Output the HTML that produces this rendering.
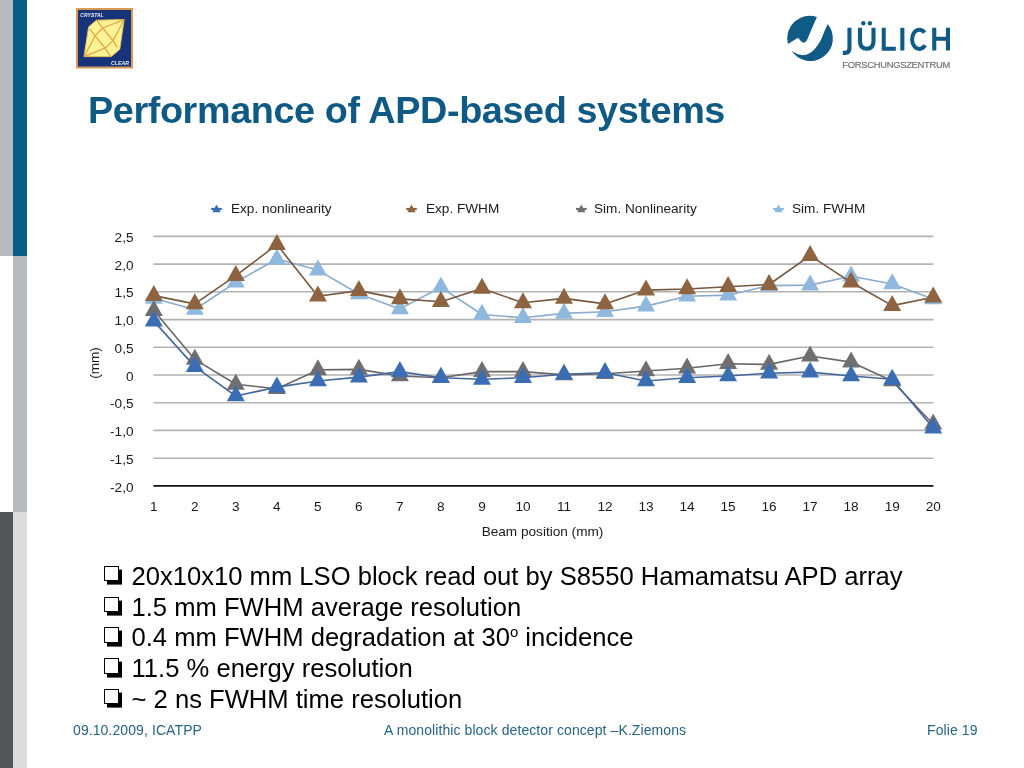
<!DOCTYPE html>
<html><head><meta charset="utf-8"><style>
html,body{margin:0;padding:0;background:#fff;}
body{width:1024px;height:768px;position:relative;overflow:hidden;font-family:"Liberation Sans",sans-serif;-webkit-font-smoothing:antialiased;}
.bar{position:absolute;}
.title,.bul,.foot,.chart,.jl,.cc{will-change:transform;}
.chart{position:absolute;left:0;top:0;}
.cc{position:absolute;left:76px;top:8px;}
.jl{position:absolute;left:780px;top:5px;}
.title{position:absolute;left:88px;top:87.5px;font-size:37.8px;letter-spacing:-0.4px;font-weight:bold;color:#0e5a84;white-space:nowrap;line-height:44px;}
.bul{position:absolute;left:103px;top:561px;font-size:25.6px;line-height:30.7px;color:#000;white-space:nowrap;}
.bul div{position:relative;padding-left:28.5px;}
.bx{position:absolute;left:1px;top:4.9px;width:13.3px;height:13.5px;border:1.1px solid #000;box-shadow:3px 3.6px 0 #000;background:#fff;}
.bul sup{font-size:15px;vertical-align:0;position:relative;top:-9px;line-height:0;}
.foot{position:absolute;top:721.5px;font-size:14px;color:#276585;white-space:nowrap;letter-spacing:0.09px;}
</style></head><body>
<div class="bar" style="left:0;top:0;width:13px;height:256px;background:#b9bbc0"></div>
<div class="bar" style="left:13px;top:0;width:14px;height:256px;background:#075d86"></div>
<div class="bar" style="left:13px;top:256px;width:14px;height:256px;background:#b9babe"></div>
<div class="bar" style="left:0;top:512px;width:13px;height:256px;background:#545557"></div>
<div class="bar" style="left:13px;top:512px;width:14px;height:256px;background:#dcdcdc"></div>
<svg class="cc" width="58" height="62" viewBox="0 0 58 62">
<rect x="1" y="1" width="55" height="58.5" fill="#173379" stroke="#d99a56" stroke-width="2"/>
<g transform="translate(-76 -8)">
<path d="M96.5 20.2L124.1 19.6L119.8 49.3L111.2 56.6L84 56.6L88.6 26.9Z" fill="#fcf397" stroke="#f3c457" stroke-width="0.9"/>
<g fill="none" stroke="#e5a13d" stroke-width="1.2">
<polyline points="84,56.6 95.2,35.8 102.6,27.9 124.1,19.8"/>
<polyline points="84,56.6 105.1,48.1 113,40.7 124.1,19.8"/>
<polyline points="96.5,20.2 102.6,27.9 113,40.7 117.3,47.4"/>
<polyline points="89.8,29.1 95.2,35.8 105.1,48.1 110.6,56.6"/>
</g>
<text x="80.3" y="16.6" font-family="Liberation Sans, sans-serif" font-weight="bold" font-style="italic" font-size="6" fill="#e8eef8" textLength="23.4" lengthAdjust="spacingAndGlyphs">CRYSTAL</text>
<text x="111" y="64.5" font-family="Liberation Sans, sans-serif" font-weight="bold" font-style="italic" font-size="6" fill="#e8eef8" textLength="18" lengthAdjust="spacingAndGlyphs">CLEAR</text>
</g></svg>
<svg class="jl" width="180" height="70" viewBox="780 5 180 70">
<path fill="#0f5b86" d="M816.90 16.93 A22.5 22.5 0 0 0 787.93 43.95 L798.02 37.76 C798.45 38.25 799.65 39.88 800.62 40.69 C801.60 41.51 802.85 42.70 803.88 42.65 C804.91 42.59 805.83 41.89 806.81 40.37 C807.79 38.85 808.60 36.19 809.74 33.53 C810.88 30.87 812.45 27.18 813.65 24.42 C814.84 21.65 816.36 18.18 816.90 16.93 Z"/>
<path fill="#0f5b86" d="M827.64 24.09 A22.5 22.5 0 1 1 791.51 50.78 C792.60 51.38 795.85 53.66 798.02 54.36 C800.19 55.07 802.47 55.29 804.53 55.02 C806.59 54.74 808.55 53.91 810.39 52.74 C812.24 51.57 813.97 49.88 815.60 47.98 C817.23 46.09 818.75 43.97 820.16 41.34 C821.57 38.72 822.81 35.10 824.06 32.23 C825.31 29.35 827.05 25.45 827.64 24.09 Z"/>
<g fill="none" stroke="#0f5b86" stroke-width="4.1">
<path d="M849.45 27.8 V48.6 C849.45 51.8 847.6 52.9 845.2 52.9 H842.8"/>
<path d="M860 27.8 V41 C860 46.5 863 48.7 866.75 48.7 C870.5 48.7 873.5 46.5 873.5 41 V27.8"/>
<path d="M883.75 27.8 V48.75 H895.8" stroke-width="4"/>
<path d="M902.35 27.8 V50.5"/>
<path d="M924.6 32.6 A7.3 9.65 0 1 0 925.1 45.3" stroke-width="4"/>
<path d="M934.25 27.8 V50.5 M947.95 27.8 V50.5 M934.25 38.75 H947.95"/>
</g>
<circle cx="863.3" cy="23.2" r="2.2" fill="#0f5b86"/><circle cx="869.9" cy="23.2" r="2.2" fill="#0f5b86"/>
<text x="842.3" y="67.8" font-family="Liberation Sans, sans-serif" font-size="9.4" fill="#6e6e6e" stroke="#6e6e6e" stroke-width="0.15" textLength="108" lengthAdjust="spacing">FORSCHUNGSZENTRUM</text>
</svg>
<div class="title">Performance of APD-based systems</div>
<svg class="chart" width="1024" height="768" viewBox="0 0 1024 768">
<g font-family="Liberation Sans, sans-serif" font-size="13.6" fill="#1a1a1a"><path d="M216.5 204.5L220.7 212.2L212.3 212.2Z" fill="#3b6db3"/><line x1="211.2" x2="221.8" y1="209.0" y2="209.0" stroke="#3b6db3" stroke-width="2.2"/><path d="M411.5 204.5L415.7 212.2L407.3 212.2Z" fill="#8e6440"/><line x1="406.2" x2="416.8" y1="209.0" y2="209.0" stroke="#8e6440" stroke-width="2.2"/><path d="M581.3 204.5L585.5 212.2L577.1 212.2Z" fill="#6f6f72"/><line x1="576.0" x2="586.6" y1="209.0" y2="209.0" stroke="#6f6f72" stroke-width="2.2"/><path d="M778.5 204.5L782.7 212.2L774.3 212.2Z" fill="#8fb8de"/><line x1="773.2" x2="783.8" y1="209.0" y2="209.0" stroke="#8fb8de" stroke-width="2.2"/><text x="231" y="213">Exp. nonlinearity</text><text x="426" y="213">Exp. FWHM</text><text x="594" y="213">Sim. Nonlinearity</text><text x="792" y="213">Sim. FWHM</text><text x="133.5" y="242.0" text-anchor="end">2,5</text><text x="133.5" y="269.7" text-anchor="end">2,0</text><text x="133.5" y="297.4" text-anchor="end">1,5</text><text x="133.5" y="325.2" text-anchor="end">1,0</text><text x="133.5" y="352.9" text-anchor="end">0,5</text><text x="133.5" y="380.6" text-anchor="end">0</text><text x="133.5" y="408.3" text-anchor="end">-0,5</text><text x="133.5" y="436.0" text-anchor="end">-1,0</text><text x="133.5" y="463.8" text-anchor="end">-1,5</text><text x="133.5" y="491.5" text-anchor="end">-2,0</text><text x="153.8" y="510.9" text-anchor="middle">1</text><text x="194.8" y="510.9" text-anchor="middle">2</text><text x="235.8" y="510.9" text-anchor="middle">3</text><text x="276.9" y="510.9" text-anchor="middle">4</text><text x="317.9" y="510.9" text-anchor="middle">5</text><text x="358.9" y="510.9" text-anchor="middle">6</text><text x="399.9" y="510.9" text-anchor="middle">7</text><text x="440.9" y="510.9" text-anchor="middle">8</text><text x="482.0" y="510.9" text-anchor="middle">9</text><text x="523.0" y="510.9" text-anchor="middle">10</text><text x="564.0" y="510.9" text-anchor="middle">11</text><text x="605.0" y="510.9" text-anchor="middle">12</text><text x="646.0" y="510.9" text-anchor="middle">13</text><text x="687.1" y="510.9" text-anchor="middle">14</text><text x="728.1" y="510.9" text-anchor="middle">15</text><text x="769.1" y="510.9" text-anchor="middle">16</text><text x="810.1" y="510.9" text-anchor="middle">17</text><text x="851.1" y="510.9" text-anchor="middle">18</text><text x="892.2" y="510.9" text-anchor="middle">19</text><text x="933.2" y="510.9" text-anchor="middle">20</text>
<text x="542.5" y="536" text-anchor="middle">Beam position (mm)</text>
<text transform="translate(98.7 363) rotate(-90)" text-anchor="middle">(mm)</text></g>
<line x1="153.4" x2="933.4" y1="236.4" y2="236.4" stroke="#b2b2b2" stroke-width="1.6"/><line x1="153.4" x2="933.4" y1="264.1" y2="264.1" stroke="#b2b2b2" stroke-width="1.6"/><line x1="153.4" x2="933.4" y1="291.8" y2="291.8" stroke="#b2b2b2" stroke-width="1.6"/><line x1="153.4" x2="933.4" y1="319.6" y2="319.6" stroke="#b2b2b2" stroke-width="1.6"/><line x1="153.4" x2="933.4" y1="347.3" y2="347.3" stroke="#b2b2b2" stroke-width="1.6"/><line x1="153.4" x2="933.4" y1="375.0" y2="375.0" stroke="#b2b2b2" stroke-width="1.6"/><line x1="153.4" x2="933.4" y1="402.7" y2="402.7" stroke="#b2b2b2" stroke-width="1.6"/><line x1="153.4" x2="933.4" y1="430.4" y2="430.4" stroke="#b2b2b2" stroke-width="1.6"/><line x1="153.4" x2="933.4" y1="458.2" y2="458.2" stroke="#b2b2b2" stroke-width="1.6"/><line x1="153.4" x2="933.4" y1="485.9" y2="485.9" stroke="#111" stroke-width="1.7"/>
<polyline points="153.8,298.4 194.8,309.5 235.8,282.3 276.9,259.0 317.9,270.1 358.9,294.0 399.9,308.9 440.9,287.3 482.0,314.5 523.0,317.8 564.0,313.4 605.0,311.7 646.0,306.1 687.1,296.2 728.1,295.1 769.1,285.6 810.1,285.1 851.1,276.2 892.2,284.0 933.2,298.9" fill="none" stroke="#89abcf" stroke-width="1.6" stroke-linejoin="round"/><path d="M153.8 287.7L162.8 303.7L144.8 303.7Z" fill="#8fb8de"/><path d="M194.8 298.8L203.8 314.8L185.8 314.8Z" fill="#8fb8de"/><path d="M235.8 271.6L244.8 287.6L226.8 287.6Z" fill="#8fb8de"/><path d="M276.9 248.4L285.9 264.4L267.9 264.4Z" fill="#8fb8de"/><path d="M317.9 259.4L326.9 275.4L308.9 275.4Z" fill="#8fb8de"/><path d="M358.9 283.3L367.9 299.3L349.9 299.3Z" fill="#8fb8de"/><path d="M399.9 298.3L408.9 314.3L390.9 314.3Z" fill="#8fb8de"/><path d="M440.9 276.6L449.9 292.6L431.9 292.6Z" fill="#8fb8de"/><path d="M482.0 303.8L491.0 319.8L473.0 319.8Z" fill="#8fb8de"/><path d="M523.0 307.1L532.0 323.1L514.0 323.1Z" fill="#8fb8de"/><path d="M564.0 302.7L573.0 318.7L555.0 318.7Z" fill="#8fb8de"/><path d="M605.0 301.0L614.0 317.0L596.0 317.0Z" fill="#8fb8de"/><path d="M646.0 295.5L655.0 311.5L637.0 311.5Z" fill="#8fb8de"/><path d="M687.1 285.5L696.1 301.5L678.1 301.5Z" fill="#8fb8de"/><path d="M728.1 284.4L737.1 300.4L719.1 300.4Z" fill="#8fb8de"/><path d="M769.1 275.0L778.1 291.0L760.1 291.0Z" fill="#8fb8de"/><path d="M810.1 274.4L819.1 290.4L801.1 290.4Z" fill="#8fb8de"/><path d="M851.1 265.5L860.1 281.5L842.1 281.5Z" fill="#8fb8de"/><path d="M892.2 273.3L901.2 289.3L883.2 289.3Z" fill="#8fb8de"/><path d="M933.2 288.3L942.2 304.3L924.2 304.3Z" fill="#8fb8de"/><polyline points="153.8,295.6 194.8,303.9 235.8,275.7 276.9,244.6 317.9,296.2 358.9,290.6 399.9,298.9 440.9,301.7 482.0,288.4 523.0,302.8 564.0,298.4 605.0,303.9 646.0,290.1 687.1,289.0 728.1,286.7 769.1,284.5 810.1,255.7 851.1,282.3 892.2,305.6 933.2,297.3" fill="none" stroke="#75583f" stroke-width="1.6" stroke-linejoin="round"/><path d="M153.8 284.9L162.8 300.9L144.8 300.9Z" fill="#8e6440"/><path d="M194.8 293.3L203.8 309.3L185.8 309.3Z" fill="#8e6440"/><path d="M235.8 265.0L244.8 281.0L226.8 281.0Z" fill="#8e6440"/><path d="M276.9 233.9L285.9 249.9L267.9 249.9Z" fill="#8e6440"/><path d="M317.9 285.5L326.9 301.5L308.9 301.5Z" fill="#8e6440"/><path d="M358.9 280.0L367.9 296.0L349.9 296.0Z" fill="#8e6440"/><path d="M399.9 288.3L408.9 304.3L390.9 304.3Z" fill="#8e6440"/><path d="M440.9 291.0L449.9 307.0L431.9 307.0Z" fill="#8e6440"/><path d="M482.0 277.7L491.0 293.7L473.0 293.7Z" fill="#8e6440"/><path d="M523.0 292.2L532.0 308.2L514.0 308.2Z" fill="#8e6440"/><path d="M564.0 287.7L573.0 303.7L555.0 303.7Z" fill="#8e6440"/><path d="M605.0 293.3L614.0 309.3L596.0 309.3Z" fill="#8e6440"/><path d="M646.0 279.4L655.0 295.4L637.0 295.4Z" fill="#8e6440"/><path d="M687.1 278.3L696.1 294.3L678.1 294.3Z" fill="#8e6440"/><path d="M728.1 276.1L737.1 292.1L719.1 292.1Z" fill="#8e6440"/><path d="M769.1 273.9L778.1 289.9L760.1 289.9Z" fill="#8e6440"/><path d="M810.1 245.0L819.1 261.0L801.1 261.0Z" fill="#8e6440"/><path d="M851.1 271.6L860.1 287.6L842.1 287.6Z" fill="#8e6440"/><path d="M892.2 294.9L901.2 310.9L883.2 310.9Z" fill="#8e6440"/><path d="M933.2 286.6L942.2 302.6L924.2 302.6Z" fill="#8e6440"/><polyline points="153.8,310.6 194.8,359.4 235.8,384.3 276.9,388.8 317.9,369.9 358.9,369.4 399.9,376.0 440.9,377.7 482.0,371.6 523.0,371.6 564.0,374.9 605.0,373.8 646.0,371.0 687.1,368.2 728.1,363.8 769.1,364.4 810.1,356.0 851.1,362.1 892.2,381.0 933.2,424.2" fill="none" stroke="#696765" stroke-width="1.6" stroke-linejoin="round"/><path d="M153.8 299.9L162.8 315.9L144.8 315.9Z" fill="#6f6f72"/><path d="M194.8 348.7L203.8 364.7L185.8 364.7Z" fill="#6f6f72"/><path d="M235.8 373.7L244.8 389.7L226.8 389.7Z" fill="#6f6f72"/><path d="M276.9 378.1L285.9 394.1L267.9 394.1Z" fill="#6f6f72"/><path d="M317.9 359.2L326.9 375.2L308.9 375.2Z" fill="#6f6f72"/><path d="M358.9 358.7L367.9 374.7L349.9 374.7Z" fill="#6f6f72"/><path d="M399.9 365.3L408.9 381.3L390.9 381.3Z" fill="#6f6f72"/><path d="M440.9 367.0L449.9 383.0L431.9 383.0Z" fill="#6f6f72"/><path d="M482.0 360.9L491.0 376.9L473.0 376.9Z" fill="#6f6f72"/><path d="M523.0 360.9L532.0 376.9L514.0 376.9Z" fill="#6f6f72"/><path d="M564.0 364.2L573.0 380.2L555.0 380.2Z" fill="#6f6f72"/><path d="M605.0 363.1L614.0 379.1L596.0 379.1Z" fill="#6f6f72"/><path d="M646.0 360.3L655.0 376.3L637.0 376.3Z" fill="#6f6f72"/><path d="M687.1 357.6L696.1 373.6L678.1 373.6Z" fill="#6f6f72"/><path d="M728.1 353.1L737.1 369.1L719.1 369.1Z" fill="#6f6f72"/><path d="M769.1 353.7L778.1 369.7L760.1 369.7Z" fill="#6f6f72"/><path d="M810.1 345.4L819.1 361.4L801.1 361.4Z" fill="#6f6f72"/><path d="M851.1 351.5L860.1 367.5L842.1 367.5Z" fill="#6f6f72"/><path d="M892.2 370.3L901.2 386.3L883.2 386.3Z" fill="#6f6f72"/><path d="M933.2 413.6L942.2 429.6L924.2 429.6Z" fill="#6f6f72"/><polyline points="153.8,321.1 194.8,366.6 235.8,396.0 276.9,387.1 317.9,381.0 358.9,377.1 399.9,371.6 440.9,377.7 482.0,379.3 523.0,377.7 564.0,374.3 605.0,372.7 646.0,381.0 687.1,377.7 728.1,376.0 769.1,373.2 810.1,372.1 851.1,376.0 892.2,379.3 933.2,428.1" fill="none" stroke="#45679b" stroke-width="1.6" stroke-linejoin="round"/><path d="M153.8 310.5L162.8 326.5L144.8 326.5Z" fill="#3b6db3"/><path d="M194.8 355.9L203.8 371.9L185.8 371.9Z" fill="#3b6db3"/><path d="M235.8 385.3L244.8 401.3L226.8 401.3Z" fill="#3b6db3"/><path d="M276.9 376.4L285.9 392.4L267.9 392.4Z" fill="#3b6db3"/><path d="M317.9 370.3L326.9 386.3L308.9 386.3Z" fill="#3b6db3"/><path d="M358.9 366.4L367.9 382.4L349.9 382.4Z" fill="#3b6db3"/><path d="M399.9 360.9L408.9 376.9L390.9 376.9Z" fill="#3b6db3"/><path d="M440.9 367.0L449.9 383.0L431.9 383.0Z" fill="#3b6db3"/><path d="M482.0 368.7L491.0 384.7L473.0 384.7Z" fill="#3b6db3"/><path d="M523.0 367.0L532.0 383.0L514.0 383.0Z" fill="#3b6db3"/><path d="M564.0 363.7L573.0 379.7L555.0 379.7Z" fill="#3b6db3"/><path d="M605.0 362.0L614.0 378.0L596.0 378.0Z" fill="#3b6db3"/><path d="M646.0 370.3L655.0 386.3L637.0 386.3Z" fill="#3b6db3"/><path d="M687.1 367.0L696.1 383.0L678.1 383.0Z" fill="#3b6db3"/><path d="M728.1 365.3L737.1 381.3L719.1 381.3Z" fill="#3b6db3"/><path d="M769.1 362.6L778.1 378.6L760.1 378.6Z" fill="#3b6db3"/><path d="M810.1 361.5L819.1 377.5L801.1 377.5Z" fill="#3b6db3"/><path d="M851.1 365.3L860.1 381.3L842.1 381.3Z" fill="#3b6db3"/><path d="M892.2 368.7L901.2 384.7L883.2 384.7Z" fill="#3b6db3"/><path d="M933.2 417.5L942.2 433.5L924.2 433.5Z" fill="#3b6db3"/>
</svg>
<div class="bul">
<div><span class="bx"></span>20x10x10 mm LSO block read out by S8550 Hamamatsu APD array</div>
<div><span class="bx"></span>1.5 mm FWHM average resolution</div>
<div><span class="bx"></span>0.4 mm FWHM degradation at 30<sup>o</sup> incidence</div>
<div><span class="bx"></span>11.5 % energy resolution</div>
<div><span class="bx"></span>~ 2 ns FWHM time resolution</div>
</div>
<div class="foot" style="left:72.8px">09.10.2009, ICATPP</div>
<div class="foot" style="left:384px">A monolithic block detector concept &#8211;K.Ziemons</div>
<div class="foot" style="left:927px">Folie 19</div>
</body></html>
